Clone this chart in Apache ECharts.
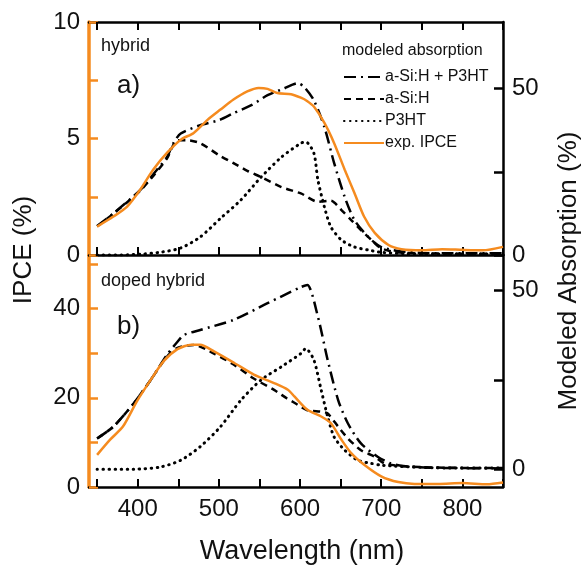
<!DOCTYPE html>
<html><head><meta charset="utf-8">
<script src="https://cdn.jsdelivr.net/npm/echarts@6/dist/echarts.min.js"></script>
<style>html,body{margin:0;padding:0;background:#fff}#c{width:583px;height:570px}</style>
</head><body><div id="c"></div>
<script>
// ---------- data ----------
const xTicks = [350, 400, 450, 500, 550, 600, 650, 700, 750, 800, 850];
const xLabels = [400, 500, 600, 700, 800];
const topLeftTicks = [0, 2.5, 5, 7.5, 10];
const topLeftLabels = [0, 5, 10];
const topRightTicks = [0, 25, 50];
const topRightLabels = [0, 50];
const botLeftTicks = [0, 10, 20, 30, 40, 50];
const botLeftLabels = [0, 20, 40];
const botRightTicks = [0, 25, 50];
const botRightLabels = [0, 50];

// Panel a) hybrid
const aIpceWl = [350, 370, 387, 403, 419, 436, 453, 469, 486, 502, 518, 535, 549, 560, 572, 589, 601, 609, 617, 630, 642, 655, 667, 679, 692, 709, 725, 750, 775, 800, 825, 850];
const aIpce = [1.22, 1.65, 2.08, 2.8, 3.66, 4.38, 4.95, 5.24, 5.8, 6.24, 6.67, 7.02, 7.17, 7.13, 6.95, 6.9, 6.75, 6.6, 6.37, 5.67, 4.8, 3.66, 2.66, 1.64, 0.95, 0.43, 0.25, 0.2, 0.25, 0.22, 0.2, 0.35];
const aTotWl = [350, 370, 403, 420, 436, 444, 453, 477, 500, 518, 540, 560, 580, 597, 605, 617, 630, 642, 655, 667, 684, 700, 721, 750, 780, 810, 850];
const aTot = [8.7, 12.5, 19.5, 24.5, 29.4, 33.6, 36.5, 39, 40.5, 42.6, 45, 48, 50, 51.6, 50.5, 46.5, 38.4, 27.6, 17.4, 10.5, 5.4, 2.4, 1.2, 0.6, 0.5, 0.5, 0.5];
const aSiWl = [350, 370, 403, 420, 436, 449, 460, 477, 500, 518, 535, 552, 577, 601, 622, 638, 651, 663, 675, 688, 700, 720, 750, 800, 850];
const aSi = [8.6, 12.4, 19.3, 24, 29, 34.5, 34.5, 33.6, 30, 27.6, 25.3, 23.4, 20.4, 18.5, 16, 16.3, 13.5, 10.5, 7.5, 4.5, 2, 0.8, 0.5, 0.4, 0.4];
const aP3Wl = [350, 380, 407, 430, 453, 477, 502, 527, 552, 577, 601, 607, 617, 622, 630, 638, 651, 667, 684, 700, 730, 780, 850];
const aP3 = [0, 0, 0.3, 0.9, 2.1, 5.4, 11, 16.5, 23.4, 29.4, 33.6, 34, 30.6, 22.5, 14.4, 8.4, 4.5, 2.4, 1.5, 0.8, 0.4, 0.3, 0.3];

// Panel b) doped hybrid
const bIpceWl = [350, 366, 382, 399, 416, 432, 449, 466, 477, 494, 519, 543, 568, 585, 593, 609, 626, 638, 651, 663, 679, 700, 721, 741, 770, 800, 830, 850];
const bIpce = [7.2, 10.6, 13.6, 19.2, 24, 28.2, 30.9, 31.9, 31.9, 30.4, 27.8, 25.2, 23.3, 21.8, 20.3, 17.3, 15.8, 14.3, 10.6, 7.6, 5.0, 2.4, 1.1, 0.7, 0.7, 0.9, 0.6, 1.0];
const bTotWl = [350, 370, 395, 416, 436, 449, 457, 477, 518, 560, 601, 609, 622, 634, 647, 659, 675, 696, 712, 730, 760, 800, 850];
const bTot = [8.6, 11.9, 18.4, 25, 32, 35.7, 37.6, 39, 41.8, 46.5, 51, 51.6, 42.7, 30.6, 19.3, 12.8, 7.2, 3.4, 1.6, 0.8, 0.4, 0.3, 0.2];
const bSiWl = [350, 370, 395, 416, 436, 449, 469, 494, 519, 543, 568, 584, 593, 609, 626, 634, 647, 659, 675, 692, 704, 730, 780, 850];
const bSi = [8.6, 11.9, 18.4, 25, 31.5, 34, 34.8, 32.4, 29.2, 25.4, 22.2, 19.8, 18.6, 16.5, 16.1, 15.6, 11.9, 8.6, 5.3, 3.5, 1.6, 0.8, 0.4, 0.3];
const bP3Wl = [350, 395, 428, 453, 477, 502, 527, 552, 577, 601, 607, 617, 626, 634, 642, 655, 671, 688, 700, 750, 800, 850];
const bP3 = [0, 0, 0.6, 2.5, 6.3, 11.9, 19.3, 25, 28.7, 32.4, 33.8, 30.6, 22.2, 14.7, 9, 5.3, 2.5, 1.6, 1.1, 0.5, 0.3, 0.3];

const names = ['a-Si:H + P3HT', 'a-Si:H', 'P3HT', 'exp. IPCE'];

// ---------- chart ----------
const ORANGE = '#F58B1F';
const FONT = '"Liberation Sans", Arial, sans-serif';
const pairs = (xs, ys) => xs.map((x, i) => [x, ys[i]]);

const styleDashDot = { color: '#000', width: 2.5, type: [12, 5, 2, 5] };
const styleDash = { color: '#000', width: 2.5, type: [7, 5] };
const styleDot = { color: '#000', width: 3, type: [0.5, 5.5], cap: 'round' };
const styleOrange = { color: ORANGE, width: 2.5 };

function line(name, data, xi, yi, ls, z) {
  return { type: 'line', name, data, xAxisIndex: xi, yAxisIndex: yi, symbol: 'none',
    lineStyle: ls, itemStyle: { color: ls.color }, smooth: 0.25, z: z || 2, silent: true };
}

function xAxisDef(grid, pos, showLabels) {
  return {
    type: 'value', gridIndex: grid, position: pos, min: 340, max: 850,
    axisLine: { onZero: false, lineStyle: { color: '#000', width: 2.5 } },
    axisTick: { inside: true, length: 8, lineStyle: { color: '#000', width: 2 }, customValues: xTicks },
    axisLabel: { show: showLabels, customValues: xLabels, color: '#111', fontSize: 24, fontFamily: FONT, margin: 10 },
    splitLine: { show: false }
  };
}
function yAxisDef(grid, pos, min, max, ticks, labels, color, lw) {
  return {
    type: 'value', gridIndex: grid, position: pos, min, max,
    axisLine: { show: true, onZero: false, lineStyle: { color, width: lw } },
    axisTick: { show: true, inside: true, length: 9, lineStyle: { color, width: 2.5 }, customValues: ticks },
    axisLabel: { customValues: labels, color: '#111', fontSize: 24, fontFamily: FONT, margin: 9 },
    splitLine: { show: false }
  };
}

const chart = echarts.init(document.getElementById('c'), null, { renderer: 'canvas' });
chart.setOption({
  animation: false,
  backgroundColor: '#fff',
  grid: [
    { left: 89, right: 80, top: 22, height: 233 },
    { left: 89, right: 80, top: 255, height: 232 }
  ],
  xAxis: [
    xAxisDef(0, 'bottom', false),
    xAxisDef(0, 'top', false),
    xAxisDef(1, 'bottom', true)
  ],
  yAxis: [
    yAxisDef(0, 'left', 0, 10, topLeftTicks, topLeftLabels, ORANGE, 3.5),
    yAxisDef(0, 'right', 0, 70, topRightTicks, topRightLabels, '#000', 2.5),
    yAxisDef(1, 'left', 0, 52, botLeftTicks, botLeftLabels, ORANGE, 3.5),
    yAxisDef(1, 'right', -5, 60, botRightTicks, botRightLabels, '#000', 2.5)
  ],
  legend: {
    orient: 'vertical', left: 338, top: 64, itemGap: 6, itemWidth: 40, itemHeight: 14,
    data: names, selectedMode: false,
    itemStyle: { opacity: 0 },
    textStyle: { fontSize: 16, fontFamily: FONT, color: '#111', padding: [0, 0, 0, -4] }
  },
  series: [
    line(names[0], pairs(aTotWl, aTot), 0, 1, styleDashDot),
    line(names[1], pairs(aSiWl, aSi), 0, 1, styleDash),
    line(names[2], pairs(aP3Wl, aP3), 0, 1, styleDot),
    line(names[3], pairs(aIpceWl, aIpce), 0, 0, styleOrange, 5),
    line(names[0], pairs(bTotWl, bTot), 2, 3, styleDashDot),
    line(names[1], pairs(bSiWl, bSi), 2, 3, styleDash),
    line(names[2], pairs(bP3Wl, bP3), 2, 3, styleDot),
    line(names[3], pairs(bIpceWl, bIpce), 2, 2, styleOrange, 5)
  ],
  graphic: [
    { type: 'text', left: 101, top: 37, style: { text: 'hybrid', fontSize: 18, fontFamily: FONT, fill: '#111' } },
    { type: 'text', left: 117, top: 73, style: { text: 'a)', fontSize: 26, fontFamily: FONT, fill: '#111' } },
    { type: 'text', left: 101, top: 272, style: { text: 'doped hybrid', fontSize: 18, fontFamily: FONT, fill: '#111' } },
    { type: 'text', left: 117, top: 314, style: { text: 'b)', fontSize: 26, fontFamily: FONT, fill: '#111' } },
    { type: 'text', left: 342, top: 43, style: { text: 'modeled absorption', fontSize: 16, fontFamily: FONT, fill: '#111' } },
    { type: 'text', x: 24, y: 250, rotation: Math.PI / 2,
      style: { text: 'IPCE (%)', fontSize: 26, fontFamily: FONT, fill: '#111', align: 'center', verticalAlign: 'middle' } },
    { type: 'text', x: 569, y: 271, rotation: Math.PI / 2,
      style: { text: 'Modeled Absorption (%)', fontSize: 26, fontFamily: FONT, fill: '#111', align: 'center', verticalAlign: 'middle' } },
    { type: 'text', x: 302, y: 552,
      style: { text: 'Wavelength (nm)', fontSize: 27, fontFamily: FONT, fill: '#111', align: 'center', verticalAlign: 'middle' } }
  ]
});
</script></body></html>
